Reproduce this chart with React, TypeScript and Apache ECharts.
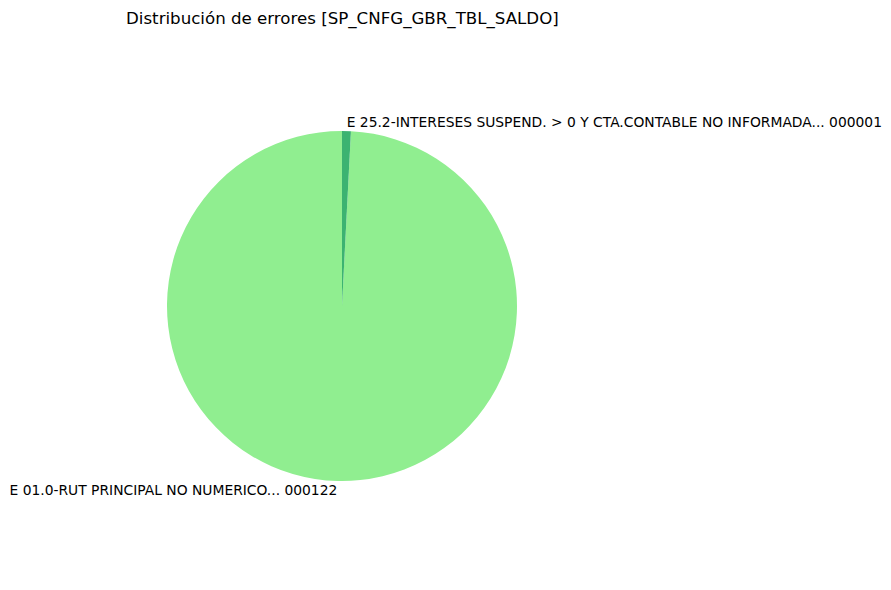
import React, { useEffect, useRef } from "react";
import * as echarts from "echarts";

const categories = [
  "E 01.0-RUT PRINCIPAL NO NUMERICO... 000122",
  "E 25.2-INTERESES SUSPEND. > 0 Y CTA.CONTABLE NO INFORMADA... 000001",
];
const values = [122, 1];
const colors = ["#90EE90", "#3CB371"];
const titleText = "Distribución de errores [SP_CNFG_GBR_TBL_SALDO]";

export default function App() {
  const ref = useRef<HTMLDivElement>(null);
  useEffect(() => {
    if (!ref.current) return;
    const chart = echarts.init(ref.current, null, { renderer: "svg" });
    chart.setOption({
      animation: false,
      backgroundColor: "#ffffff",
      title: {
        text: titleText,
        left: 126,
        top: 10,
        padding: 0,
        textStyle: {
          fontFamily: "DejaVu Sans",
          fontSize: 16.65,
          fontWeight: "normal",
          color: "#000000",
        },
      },
      series: [
        {
          type: "pie",
          center: [342, 306],
          radius: 175,
          startAngle: 90,
          clockwise: false,
          avoidLabelOverlap: false,
          silent: true,
          data: categories.map((name, i) => ({
            name,
            value: values[i],
            itemStyle: { color: colors[i] },
          })),
          itemStyle: { borderWidth: 0 },
          label: {
            show: true,
            position: "outside",
            formatter: "{b}",
            fontFamily: "DejaVu Sans",
            fontSize: 13.85,
            color: "#000000",
            distanceToLabelLine: 0,
          },
          labelLine: { show: false, length: 9, length2: 0 },
          emphasis: { disabled: true },
        },
      ],
    });
    return () => chart.dispose();
  }, []);
  return (
    <div
      ref={ref}
      style={{ position: "fixed", left: 0, top: 0, width: 891, height: 590, background: "#fff" }}
    />
  );
}
